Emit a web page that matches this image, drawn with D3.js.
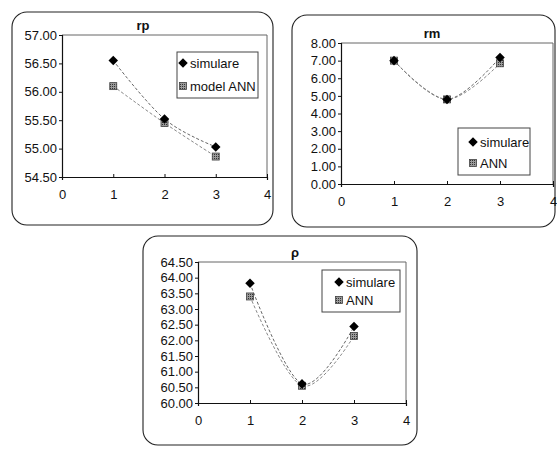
<!DOCTYPE html>
<html>
<head>
<meta charset="utf-8">
<script src="https://cdn.jsdelivr.net/npm/d3@7"></script>
<style>
  html, body { margin: 0; padding: 0; background: #fff; }
  svg { display: block; }
  text { font-family: "Liberation Sans", Arial, sans-serif; fill: #111; }
</style>
</head>
<body>
<svg id="chart" width="557" height="449"></svg>
<script>
// x positions shared by every panel
const xValues = [1, 2, 3];
const xTicks = [0, 1, 2, 3, 4];

// rp panel
const rpTitle = "rp";
const rpSimulare = [56.55, 55.52, 55.03];
const rpANN = [56.10, 55.45, 54.86];
const rpTicks = [54.5, 55.0, 55.5, 56.0, 56.5, 57.0];
const rpLegend = ["simulare", "model ANN"];

// rm panel
const rmTitle = "rm";
const rmSimulare = [7.00, 4.80, 7.18];
const rmANN = [7.00, 4.80, 6.85];
const rmTicks = [0, 1, 2, 3, 4, 5, 6, 7, 8];
const rmLegend = ["simulare", "ANN"];

// rho panel
const rhoTitle = "ρ";
const rhoSimulare = [63.82, 60.61, 62.44];
const rhoANN = [63.40, 60.55, 62.14];
const rhoTicks = [60.0, 60.5, 61.0, 61.5, 62.0, 62.5, 63.0, 63.5, 64.0, 64.5];
const rhoLegend = ["simulare", "ANN"];

const svg = d3.select("#chart");

// hatched fill for the ANN square markers
const defs = svg.append("defs");
const pat = defs.append("pattern")
  .attr("id", "hatch").attr("patternUnits", "userSpaceOnUse")
  .attr("width", 2).attr("height", 2);
pat.append("rect").attr("width", 2).attr("height", 2).attr("fill", "#9a9a9a");
pat.append("rect").attr("width", 1).attr("height", 1).attr("fill", "#333");

const panels = [
  { title: rpTitle, sim: rpSimulare, ann: rpANN, ticks: rpTicks, legend: rpLegend,
    box: [12, 12, 261, 213], plot: [62, 35, 267, 177], titleXY: [143, 30],
    leg: [177, 52, 81, 46], legRows: [63, 86], legMarkX: 183 },
  { title: rmTitle, sim: rmSimulare, ann: rmANN, ticks: rmTicks, legend: rmLegend,
    box: [292, 15, 263, 212], plot: [341, 43, 553, 184], titleXY: [432, 38],
    leg: [458, 128, 72, 47], legRows: [142, 163], legMarkX: 473 },
  { title: rhoTitle, sim: rhoSimulare, ann: rhoANN, ticks: rhoTicks, legend: rhoLegend,
    box: [143, 236, 274, 209], plot: [198, 262, 406, 403], titleXY: [295, 257],
    leg: [322, 270, 78, 42], legRows: [282, 300], legMarkX: 339 }
];

function diamond(g, x, y) {
  g.append("path")
    .attr("d", d3.symbol(d3.symbolDiamond2, 58)())
    .attr("transform", `translate(${x},${y})`)
    .attr("fill", "#000");
}
function square(g, x, y) {
  g.append("rect")
    .attr("x", x - 3.5).attr("y", y - 3.5)
    .attr("width", 7).attr("height", 7)
    .attr("fill", "url(#hatch)")
    .attr("stroke", "#444").attr("stroke-width", 0.8);
}

panels.forEach(p => {
  const g = svg.append("g");
  const [bx, by, bw, bh] = p.box;
  g.append("rect")
    .attr("x", bx).attr("y", by).attr("width", bw).attr("height", bh)
    .attr("rx", 15).attr("ry", 15)
    .attr("fill", "#fff").attr("stroke", "#222").attr("stroke-width", 1.1);

  const [x0, y0, x1, y1] = p.plot;
  const x = d3.scaleLinear().domain([0, 4]).range([x0, x1]);
  const y = d3.scaleLinear().domain([p.ticks[0], p.ticks[p.ticks.length - 1]]).range([y1, y0]);

  // plot area frame (top and right)
  g.append("path")
    .attr("d", `M${x0},${y0}H${x1}V${y1}`)
    .attr("fill", "none").attr("stroke", "#666").attr("stroke-width", 1);

  const yAxis = g.append("g").attr("transform", `translate(${x0},0)`)
    .call(d3.axisLeft(y).tickValues(p.ticks).tickFormat(d3.format(".2f")).tickSize(3).tickPadding(2));
  const xAxis = g.append("g").attr("transform", `translate(0,${y1})`)
    .call(d3.axisBottom(x).tickValues(xTicks).tickFormat(d3.format("d")).tickSize(3).tickPadding(10));
  [yAxis, xAxis].forEach(a => {
    a.select(".domain").attr("stroke", "#111").attr("stroke-width", 1.2);
    a.selectAll(".tick line").attr("stroke", "#111");
    a.selectAll(".tick text").attr("font-size", 13).attr("fill", "#111")
      .attr("font-family", "'Liberation Sans', Arial, sans-serif");
  });
  xAxis.selectAll(".tick line").attr("y2", -3);

  g.append("text")
    .attr("x", p.titleXY[0]).attr("y", p.titleXY[1])
    .attr("text-anchor", "middle")
    .attr("font-size", 13).attr("font-weight", "bold")
    .text(p.title);

  // smoothed connecting curves
  const line = d3.line()
    .x((d, i) => x(xValues[i]))
    .y(d => y(d))
    .curve(d3.curveCardinal.tension(0));
  [p.sim, p.ann].forEach((s, k) => {
    g.append("path")
      .attr("d", line(s))
      .attr("fill", "none")
      .attr("stroke", k === 0 ? "#666" : "#888")
      .attr("stroke-width", 1)
      .attr("stroke-dasharray", "3,2");
  });

  p.ann.forEach((v, i) => square(g, x(xValues[i]), y(v)));
  p.sim.forEach((v, i) => diamond(g, x(xValues[i]), y(v)));

  // legend
  const [lx, ly, lw, lh] = p.leg;
  g.append("rect")
    .attr("x", lx).attr("y", ly).attr("width", lw).attr("height", lh)
    .attr("fill", "#fff").attr("stroke", "#444").attr("stroke-width", 1);
  diamond(g, p.legMarkX, p.legRows[0]);
  square(g, p.legMarkX, p.legRows[1]);
  p.legend.forEach((t, i) => {
    g.append("text")
      .attr("x", p.legMarkX + 7).attr("y", p.legRows[i])
      .attr("dy", "0.35em")
      .attr("font-size", 13)
      .text(t);
  });
});
</script>
</body>
</html>
